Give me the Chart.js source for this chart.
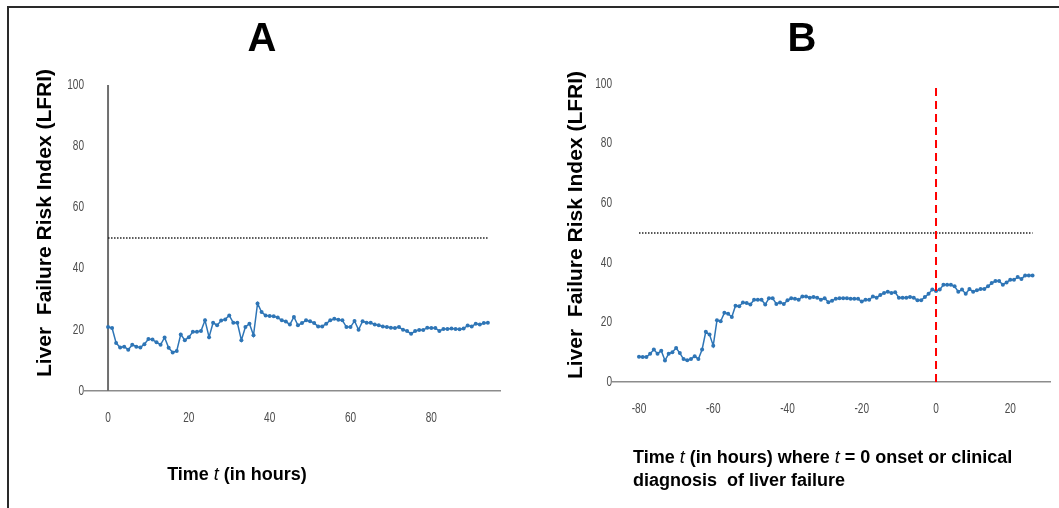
<!DOCTYPE html>
<html>
<head>
<meta charset="utf-8">
<script src="https://cdn.jsdelivr.net/npm/chart.js@4.4.1/dist/chart.umd.min.js"></script>
<style>
  body { margin: 0; background: #fff; }
  #marco { position: relative; width: 1059px; height: 508px; overflow: hidden; }
  #borde { position: absolute; left: 7px; top: 6px; right: 0; bottom: 0; border-top: 2px solid #2a2a2a; border-left: 2px solid #2a2a2a; }
  canvas { position: absolute; left: 0; top: 0; }
</style>
</head>
<body>
<div id="marco">
  <div id="borde"></div>
  <canvas id="chartA" width="1059" height="508"></canvas>
  <canvas id="chartB" width="1059" height="508"></canvas>
</div>
<script>
// Panel A: hours since admission
const horasA = [0, 1, 2, 3, 4, 5, 6, 7, 8, 9, 10, 11, 12, 13, 14, 15, 16, 17, 18, 19,
  20, 21, 22, 23, 24, 25, 26, 27, 28, 29, 30, 31, 32, 33, 34, 35, 36, 37, 38, 39,
  40, 41, 42, 43, 44, 45, 46, 47, 48, 49, 50, 51, 52, 53, 54, 55, 56, 57, 58, 59,
  60, 61, 62, 63, 64, 65, 66, 67, 68, 69, 70, 71, 72, 73, 74, 75, 76, 77, 78, 79,
  80, 81, 82, 83, 84, 85, 86, 87, 88, 89, 90, 91, 92, 93, 94];
const lfriA = [20.9, 20.6, 15.7, 14.2, 14.5, 13.5, 15.1, 14.5, 14.2, 15.3,
  17.0, 16.8, 15.9, 15.1, 17.5, 14.1, 12.6, 13.1, 18.5, 16.6,
  17.6, 19.4, 19.4, 19.6, 23.1, 17.6, 22.3, 21.5, 23.0, 23.4,
  24.7, 22.3, 22.3, 16.6, 20.9, 22.0, 18.2, 28.6, 25.8, 24.7,
  24.5, 24.4, 24.0, 23.1, 22.7, 21.7, 24.2, 21.5, 22.2, 23.1,
  22.8, 22.2, 21.1, 21.1, 22.0, 23.1, 23.6, 23.3, 23.1, 20.9,
  20.9, 22.9, 20.0, 22.8, 22.3, 22.3, 21.7, 21.5, 21.1, 20.9,
  20.7, 20.6, 20.9, 20.0, 19.6, 18.7, 19.6, 19.9, 19.9, 20.7,
  20.6, 20.6, 19.6, 20.3, 20.3, 20.4, 20.3, 20.2, 20.4, 21.4,
  21.1, 22.0, 21.7, 22.2, 22.3];

// Panel B: hours relative to liver failure onset (t = 0)
const horasB = [-80, -79, -78, -77, -76, -75, -74, -73, -72, -71, -70, -69, -68, -67, -66,
  -65, -64, -63, -62, -61, -60, -59, -58, -57, -56, -55, -54, -53, -52, -51,
  -50, -49, -48, -47, -46, -45, -44, -43, -42, -41, -40, -39, -38, -37, -36,
  -35, -34, -33, -32, -31, -30, -29, -28, -27, -26, -25, -24, -23, -22, -21,
  -20, -19, -18, -17, -16, -15, -14, -13, -12, -11, -10, -9, -8, -7, -6,
  -5, -4, -3, -2, -1, 0, 1, 2, 3, 4, 5, 6, 7, 8, 9, 10, 11, 12, 13, 14,
  15, 16, 17, 18, 19, 20, 21, 22, 23, 24, 25, 26];
const lfriB = [8.5, 8.4, 8.4, 9.5, 10.9, 9.5, 10.5, 7.2, 9.5, 10.0, 11.4, 9.7, 7.7, 7.3, 7.7,
  8.6, 7.7, 10.9, 16.9, 15.9, 12.2, 20.7, 20.4, 23.2, 22.9, 21.8, 25.6, 25.4, 26.7, 26.5,
  26.0, 27.6, 27.6, 27.6, 26.0, 28.1, 28.1, 26.2, 26.7, 26.2, 27.4, 28.1, 27.9, 27.6, 28.7,
  28.7, 28.3, 28.5, 28.3, 27.6, 28.1, 26.8, 27.3, 27.9, 28.1, 28.1, 28.1, 27.9, 27.9, 27.9,
  27.0, 27.6, 27.6, 28.7, 28.3, 29.2, 29.9, 30.3, 29.9, 30.1, 28.3, 28.3, 28.3, 28.5, 28.3,
  27.4, 27.4, 28.5, 29.6, 31.0, 30.5, 31.0, 32.6, 32.6, 32.6, 32.1, 30.3, 31.0, 29.6, 31.2,
  30.3, 30.8, 31.2, 31.2, 32.1, 33.2, 33.9, 33.9, 32.6, 33.4, 34.3, 34.3, 35.2, 34.6, 35.7,
  35.7, 35.7];

const umbral = 50;
const ticksXA = [0, 20, 40, 60, 80];
const ticksXB = [-80, -60, -40, -20, 0, 20];
const ticksY = [0, 20, 40, 60, 80, 100];
const inicio = 0;   // t = 0 marker in panel B
const tituloY = 'Liver  Failure Risk Index (LFRI)';
const tituloXA = [['Time ', false], ['t', true], [' (in hours)', false]];
const tituloXB1 = [['Time ', false], ['t', true], [' (in hours) where ', false], ['t', true], [' = 0 onset or clinical', false]];
const tituloXB2 = [['diagnosis  of liver failure', false]];

const azul = '#2e75b6';
const grisTicks = '#4d4d4d';
const sans = '"Liberation Sans", Arial, sans-serif';

function puntos(xs, ys) {
  return xs.map((x, i) => ({ x: x, y: ys[i] }));
}

function textoMixto(ctx, partes, x, y) {
  partes.forEach(([txt, italica]) => {
    ctx.font = (italica ? 'italic ' : 'bold ') + '18px ' + sans;
    ctx.fillText(txt, x, y);
    x += ctx.measureText(txt).width;
  });
}

// narrow tick label, squeezed horizontally like the original
function etiqueta(ctx, txt, x, y, alinear) {
  ctx.save();
  ctx.translate(x, y);
  ctx.scale(0.72, 1);
  ctx.textAlign = alinear;
  ctx.fillText(txt, 0, 0);
  ctx.restore();
}

// Letters, axis titles, tick labels and the A panel's y axis at x = 0
const textos = {
  id: 'textos',
  beforeDatasetsDraw(chart, args, opts) {
    if (!opts.ejeCero) return;
    const ctx = chart.ctx;
    const x = chart.scales.x.getPixelForValue(0);
    ctx.save();
    ctx.strokeStyle = '#6f6f6f';
    ctx.lineWidth = 2;
    ctx.beginPath();
    ctx.moveTo(x, chart.scales.y.getPixelForValue(100));
    ctx.lineTo(x, chart.scales.y.getPixelForValue(0));
    ctx.stroke();
    ctx.restore();
  },
  afterDraw(chart, args, opts) {
    const ctx = chart.ctx;
    const sx = chart.scales.x, sy = chart.scales.y;
    ctx.save();

    // tick labels
    ctx.fillStyle = grisTicks;
    ctx.font = '14px ' + sans;
    ctx.textBaseline = 'middle';
    sx.ticks.forEach(t => etiqueta(ctx, String(t.value), sx.getPixelForValue(t.value), sx.top + 27, 'center'));
    sy.ticks.forEach(t => etiqueta(ctx, String(t.value), sy.right - 1, sy.getPixelForValue(t.value), 'right'));

    ctx.fillStyle = '#000';
    ctx.textBaseline = 'alphabetic';
    ctx.textAlign = 'center';
    ctx.font = 'bold 40px ' + sans;
    ctx.fillText(opts.letra, opts.letraX, 51);

    ctx.save();
    ctx.translate(opts.yTitX, opts.yTitY);
    ctx.rotate(-Math.PI / 2);
    ctx.font = 'bold 21px ' + sans;
    ctx.fillText(tituloY, 0, 0);
    ctx.restore();

    ctx.textAlign = 'left';
    opts.lineasX.forEach((partes, i) => {
      let x = opts.xTitX;
      if (opts.centrar) {
        let w = 0;
        partes.forEach(([txt, italica]) => {
          ctx.font = (italica ? 'italic ' : 'bold ') + '18px ' + sans;
          w += ctx.measureText(txt).width;
        });
        x -= w / 2;
      }
      textoMixto(ctx, partes, x, opts.xTitY + i * 23);
    });
    ctx.restore();
  }
};

function escalas(xmin, xmax, ticksX, altoX) {
  return {
    x: {
      type: 'linear', min: xmin, max: xmax,
      grid: { display: false, drawTicks: false },
      border: { color: '#8c8c8c', width: 1.5 },
      ticks: { display: false },
      afterBuildTicks: s => { s.ticks = ticksX.map(v => ({ value: v })); },
      afterFit: s => { s.height = altoX; }
    },
    y: {
      min: 0, max: 100,
      grid: { display: false, drawTicks: false },
      border: { display: false },
      ticks: { display: false },
      afterBuildTicks: s => { s.ticks = ticksY.map(v => ({ value: v })); },
      afterFit: s => { s.width = 40; }
    }
  };
}

// Gráfico A
new Chart(document.getElementById('chartA'), {
  type: 'line',
  data: {
    datasets: [{
      data: puntos(horasA, lfriA),
      borderColor: azul,
      backgroundColor: azul,
      borderWidth: 1.5,
      pointRadius: 2,
      pointBorderWidth: 0
    }, {
      data: [{ x: horasA[0], y: umbral }, { x: horasA[horasA.length - 1], y: umbral }],
      borderColor: '#222',
      borderWidth: 1.5,
      borderDash: [1.5, 1.5],
      pointRadius: 0
    }]
  },
  options: {
    responsive: false,
    animation: false,
    layout: { padding: { left: 45, right: 559, top: 85, bottom: 0 } },
    plugins: {
      legend: { display: false },
      tooltip: { enabled: false },
      textos: { letra: 'A', letraX: 262, yTitX: 51, yTitY: 223, xTitX: 237, xTitY: 480, centrar: true, lineasX: [tituloXA], ejeCero: true }
    },
    scales: escalas(-5.7, 97, ticksXA, 117)
  },
  plugins: [textos]
});

// Gráfico B
new Chart(document.getElementById('chartB'), {
  type: 'line',
  data: {
    datasets: [{
      data: [{ x: inicio, y: 0 }, { x: inicio, y: 98.7 }],
      borderColor: '#ff0000',
      borderWidth: 2,
      borderDash: [8, 5],
      pointRadius: 0
    }, {
      data: puntos(horasB, lfriB),
      borderColor: azul,
      backgroundColor: azul,
      borderWidth: 1.5,
      pointRadius: 2,
      pointBorderWidth: 0
    }, {
      data: [{ x: horasB[0], y: umbral }, { x: horasB[horasB.length - 1], y: umbral }],
      borderColor: '#222',
      borderWidth: 1.5,
      borderDash: [1.5, 1.5],
      pointRadius: 0
    }]
  },
  options: {
    responsive: false,
    animation: false,
    layout: { padding: { left: 573, right: 9, top: 84, bottom: 0 } },
    plugins: {
      legend: { display: false },
      tooltip: { enabled: false },
      textos: { letra: 'B', letraX: 802, yTitX: 582, yTitY: 225, xTitX: 633, xTitY: 463, centrar: false, lineasX: [tituloXB1, tituloXB2], ejeCero: false }
    },
    scales: escalas(-87, 30.7, ticksXB, 126)
  },
  plugins: [textos]
});
</script>
</body>
</html>
